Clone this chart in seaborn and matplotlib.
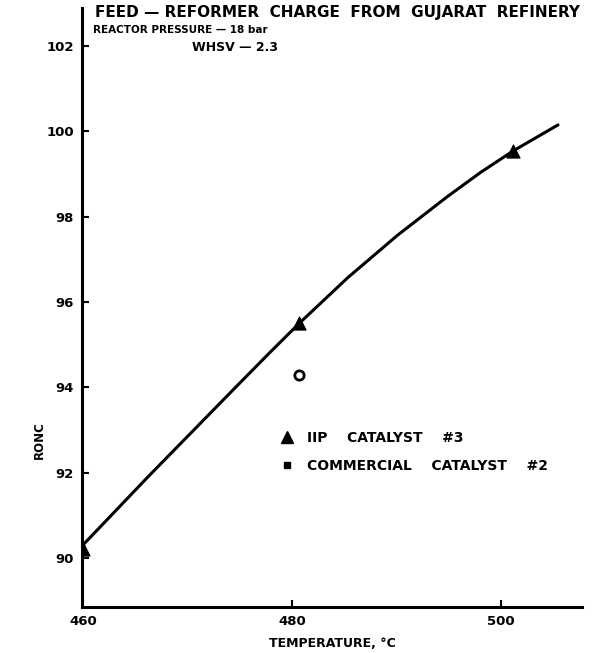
import matplotlib
matplotlib.use("Agg")
import matplotlib.pyplot as plt
from matplotlib.lines import Line2D
import seaborn as sns
import pandas as pd

# Smoothed RONC curve for the IIP catalyst
curve_temp = [459.8, 466.2, 471.0, 474.4, 477.7, 480.7, 485.4, 490.1, 494.9, 498.1, 501.2, 505.5]
curve_ronc = [90.26, 91.90, 93.10, 93.95, 94.77, 95.50, 96.58, 97.56, 98.47, 99.04, 99.54, 100.15]

# Measured points
iip_temp = [460.0, 480.7, 501.2]
iip_ronc = [90.2, 95.50, 99.54]
comm_temp = [480.7]
comm_ronc = [94.30]

x_ticks = [460, 480, 500]
y_ticks = [90, 92, 94, 96, 98, 100, 102]

title_lines = [
    "FEED \u2014 REFORMER  CHARGE  FROM  GUJARAT  REFINERY",
    "REACTOR PRESSURE \u2014 18 bar",
    "WHSV \u2014 2.3",
]
legend_labels = ["IIP    CATALYST    #3", "COMMERCIAL    CATALYST    #2"]

sns.set_style("ticks")
plt.rcParams["font.family"] = ["DejaVu Sans"]
plt.rcParams["font.weight"] = "bold"
for key in ("text.color", "axes.labelcolor", "xtick.color", "ytick.color", "axes.edgecolor"):
    plt.rcParams[key] = "black"

fig = plt.figure(figsize=(6.0, 6.53), dpi=100)
ax = fig.add_axes([0.137, 0.0704, 0.833, 0.918])

curve = pd.DataFrame({"temp": curve_temp, "ronc": curve_ronc})
sns.lineplot(data=curve, x="temp", y="ronc", ax=ax, color="black", lw=2.2, sort=True)

iip = pd.DataFrame({"temp": iip_temp, "ronc": iip_ronc})
sns.scatterplot(data=iip, x="temp", y="ronc", ax=ax, marker="^", s=90,
                color="black", edgecolor="black", zorder=5)
comm = pd.DataFrame({"temp": comm_temp, "ronc": comm_ronc})
sns.scatterplot(data=comm, x="temp", y="ronc", ax=ax, marker="o", s=45,
                facecolor="white", edgecolor="black", linewidth=2.0, zorder=5)

ax.set_xlim(459.9, 507.8)
ax.set_ylim(88.85, 102.9)
ax.set_xticks(x_ticks)
ax.set_yticks(y_ticks)
ax.tick_params(direction="in", length=5, width=1.5, labelsize=9.5, pad=6)
for lab in ax.get_xticklabels() + ax.get_yticklabels():
    lab.set_fontweight("bold")

sns.despine(ax=ax)
for side in ("left", "bottom"):
    ax.spines[side].set_linewidth(2.2)

ax.set_xlabel("TEMPERATURE, \u00b0C", fontsize=9, fontweight="bold", labelpad=6)
ax.set_ylabel("RONC", fontsize=8.5, fontweight="bold")
ax.yaxis.set_label_coords(-0.072, 0.279)

# Header block
fig.text(0.158, 0.981, title_lines[0], fontsize=11, fontweight="bold", va="center", ha="left")
fig.text(0.155, 0.954, title_lines[1], fontsize=7.5, fontweight="bold", va="center", ha="left")
fig.text(0.392, 0.928, title_lines[2], fontsize=9, fontweight="bold", va="center", ha="center")

handles = [
    Line2D([], [], linestyle="none", marker="^", markersize=8, color="black"),
    Line2D([], [], linestyle="none", marker="s", markersize=5, color="black"),
]
leg = ax.legend(handles, legend_labels, loc="upper left", bbox_to_anchor=(0.37, 0.315),
                frameon=False, handletextpad=1.0, labelspacing=1.05,
                prop={"weight": "bold", "size": 10}, handlelength=1.0)

fig.savefig("out.png", dpi=100, facecolor="white")
